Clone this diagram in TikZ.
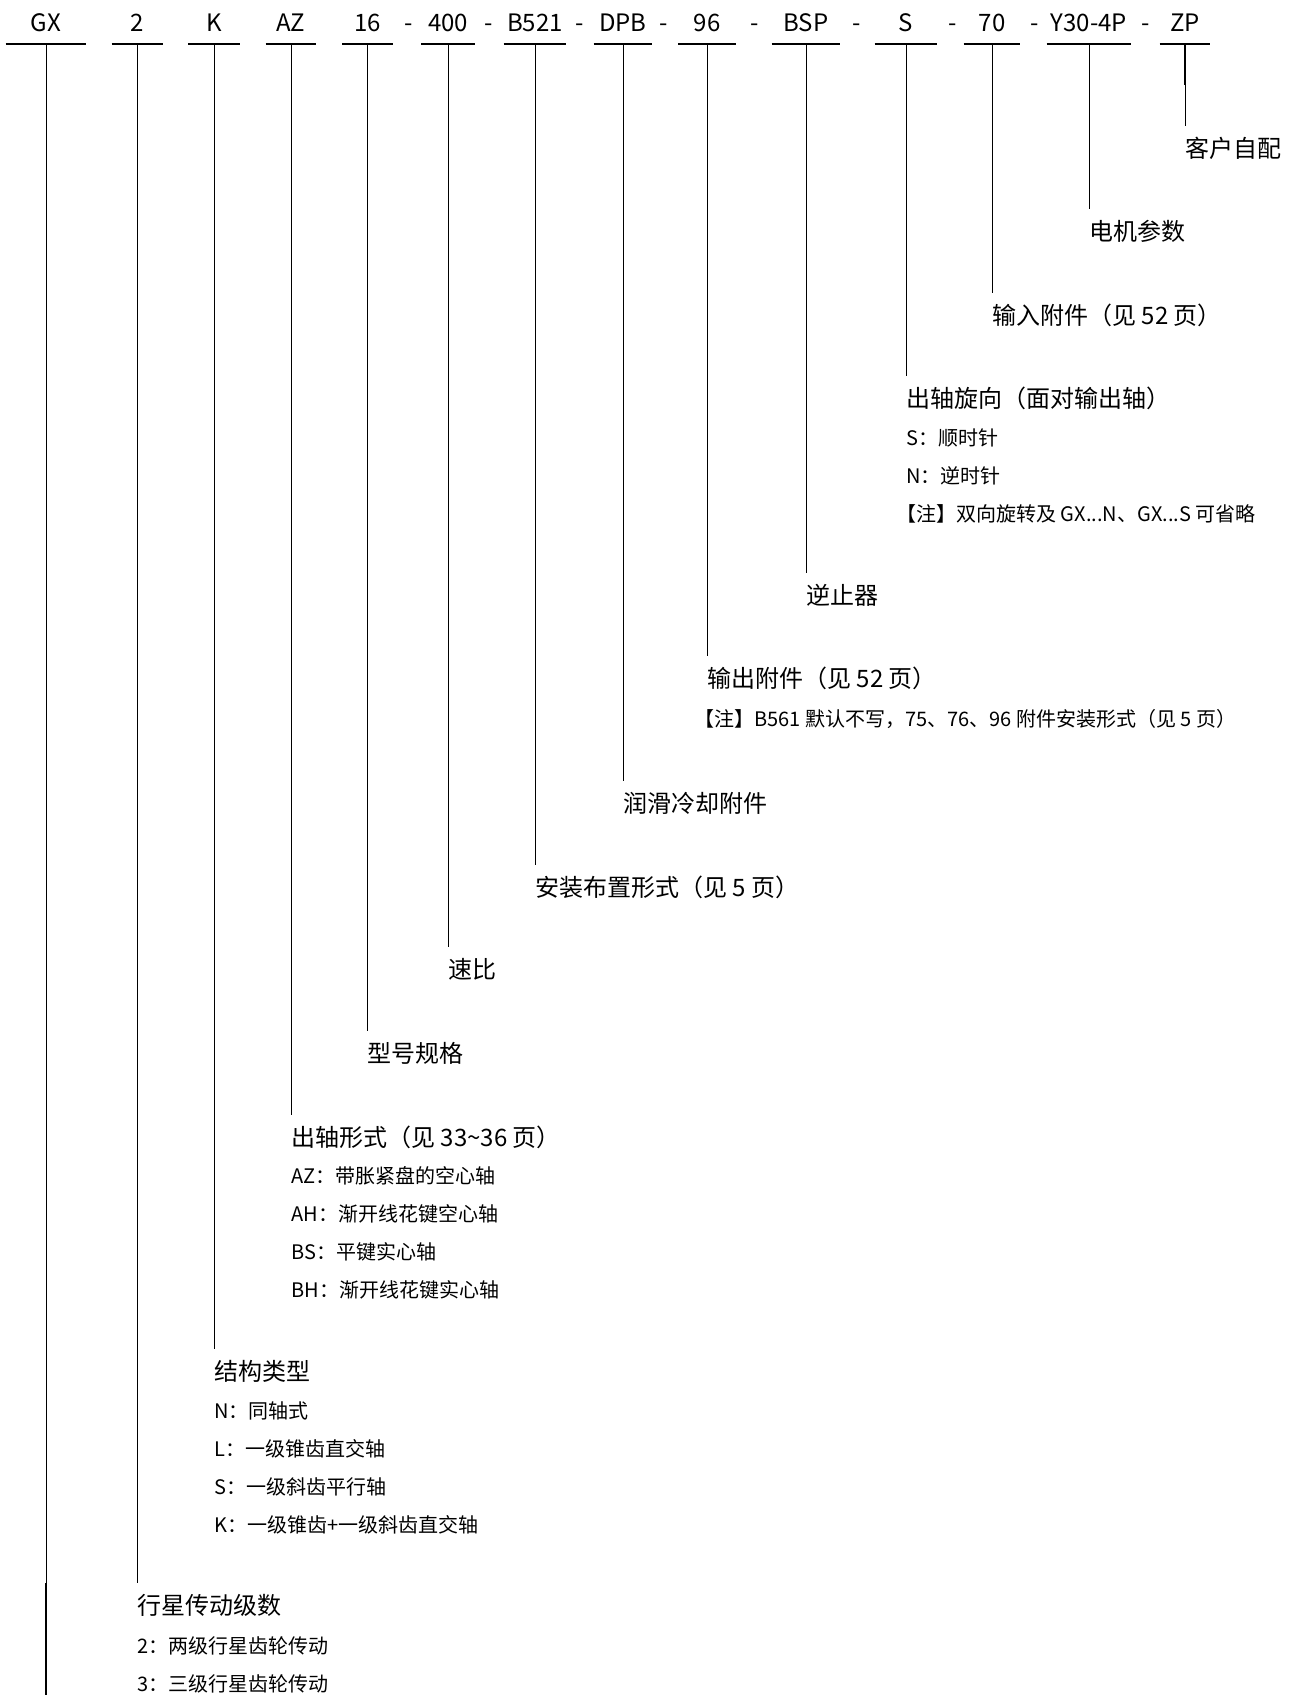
\documentclass[tikz,border=0pt]{standalone}
\usepackage{fontspec}
\setmainfont{Noto Sans CJK SC}
\usepackage{tikz}
\usetikzlibrary{calc,positioning}
\tikzset{
  code/.style={font=\fontsize{12}{14}\selectfont,anchor=south,inner xsep=0pt,inner ysep=6pt,text depth=0pt},
  hy/.style={font=\fontsize{12}{14}\selectfont,anchor=base,inner sep=0pt},
  lbl/.style={font=\fontsize{12}{14}\selectfont,anchor=north west,inner xsep=0pt,inner ysep=5.5pt},
  opt/.style={font=\fontsize{10}{12}\selectfont,anchor=west,inner sep=0pt},
  ul/.style={line width=1pt,black},
  ln/.style={line width=0.5pt,black}
}
\begin{document}
\begin{tikzpicture}[x=0.5pt,y=-0.5pt]
\useasboundingbox[fill=white] (0,0) rectangle (1290,1695);
% model code
\node[code,minimum width=40pt] (gx) at (46,44) {GX};
\node[code,minimum width=25.5pt] (st) at (137.5,44) {2};
\node[code,minimum width=25.5pt] (ty) at (214,44) {K};
\node[code,minimum width=25pt] (sh) at (291,44) {AZ};
\node[code,minimum width=25pt] (sz) at (367.5,44) {16};
\node[code,minimum width=26.5pt] (ra) at (448,44) {400};
\node[code,minimum width=31pt] (mt) at (535,44) {B521};
\node[code,minimum width=29pt] (lu) at (623,44) {DPB};
\node[code,minimum width=28.5pt] (oa) at (707,44) {96};
\node[code,minimum width=34pt] (bs) at (806,44) {BSP};
\node[code,minimum width=31pt] (rot) at (906,44) {S};
\node[code,minimum width=28pt] (ia) at (992,44) {70};
\node[code,minimum width=42pt] (mo) at (1089,44) {Y30-4P};
\node[code,minimum width=25pt] (cu) at (1185,44) {ZP};
\node[hy] (h1) at (409,32) {-};
\node[hy] (h2) at (489,32) {-};
\node[hy] (h3) at (580,32) {-};
\node[hy] (h4) at (664,32) {-};
\node[hy] (h5) at (755,32) {-};
\node[hy] (h6) at (857,32) {-};
\node[hy] (h7) at (953,32) {-};
\node[hy] (h8) at (1035,32) {-};
\node[hy] (h9) at (1146,32) {-};
\foreach \n in {gx,st,ty,sh,sz,ra,mt,lu,oa,bs,rot,ia,mo,cu}
  \draw[ul] (\n.south west) -- (\n.south east);

% meanings
\node[lbl] (cul) at (cu.south |- 0,126) {客户自配};
\node[lbl] (mol) at (mo.south |- 0,209) {电机参数};
\node[lbl] (ial) at (ia.south |- 0,293) {输入附件（见 52 页）};
\node[lbl] (rotl) at (rot.south |- 0,376) {出轴旋向（面对输出轴）};
\node[opt] (rot1) at (906,438) {S：顺时针};
\node[opt] (rot2) at (906,476) {N：逆时针};
\node[opt] (rot3) at (896,514) {【注】双向旋转及 GX...N、GX...S 可省略};
\node[lbl] (bsl) at (bs.south |- 0,573) {逆止器};
\node[lbl] (oal) at (oa.south |- 0,656) {输出附件（见 52 页）};
\node[opt] (oa1) at (694,719) {【注】B561 默认不写，75、76、96 附件安装形式（见 5 页）};
\node[lbl] (lul) at (lu.south |- 0,781) {润滑冷却附件};
\node[lbl] (mtl) at (mt.south |- 0,865) {安装布置形式（见 5 页）};
\node[lbl] (ral) at (ra.south |- 0,947) {速比};
\node[lbl] (szl) at (sz.south |- 0,1031) {型号规格};
\node[lbl] (shl) at (sh.south |- 0,1115) {出轴形式（见 33\textasciitilde36 页）};
\node[opt] (sh1) at (291,1176) {AZ：带胀紧盘的空心轴};
\node[opt] (sh2) at (291,1214) {AH：渐开线花键空心轴};
\node[opt] (sh3) at (291,1252) {BS：平键实心轴};
\node[opt] (sh4) at (291,1290) {BH：渐开线花键实心轴};
\node[lbl] (tyl) at (ty.south |- 0,1349) {结构类型};
\node[opt] (ty1) at (214,1411) {N：同轴式};
\node[opt] (ty2) at (214,1449) {L：一级锥齿直交轴};
\node[opt] (ty3) at (214,1487) {S：一级斜齿平行轴};
\node[opt] (ty4) at (214,1525) {K：一级锥齿+一级斜齿直交轴};
\node[lbl] (stl) at (st.south |- 0,1583) {行星传动级数};
\node[opt] (st1) at (137,1646) {2：两级行星齿轮传动};
\node[opt] (st2) at (137,1684) {3：三级行星齿轮传动};
\coordinate (gxend) at (gx.south |- 0,1695);

% leaders
\foreach \n in {cu,mo,ia,rot,bs,oa,lu,mt,ra,sz,sh,ty,st}
  \draw[ln] (\n.south) -- (\n l.north west);
\draw[ln] (gx.south) -- (gxend);
\draw[ul] (cu.south) -- ++(0,41);
\draw[ul] ($(gx.south |- 0,1583)$) -- (gxend);
\end{tikzpicture}
\end{document}
